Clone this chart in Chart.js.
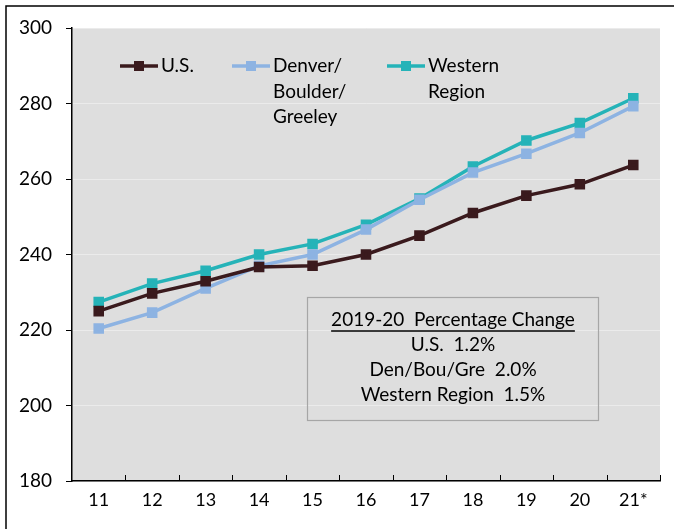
<!doctype html>
<html lang="en">
  <head>
    <meta charset="utf-8">
    <title>Index 2011-2021</title>
    <script src="https://cdn.jsdelivr.net/npm/chart.js"></script>
    <style>
      html, body { margin: 0; padding: 0; background: #fff; }
      .wrap { width: 674px; height: 529px; position: relative; }
    </style>
  </head>
  <body>
    <div class="wrap">
      <canvas id="trendChart" width="674" height="529"></canvas>
    </div>
    <script>
      // values
      const years = ['11', '12', '13', '14', '15', '16', '17', '18', '19', '20', '21*'];
      const usValues = [225.0, 229.7, 232.9, 236.7, 237.0, 240.0, 245.0, 251.0, 255.6, 258.6, 263.7];
      const denverValues = [220.4, 224.6, 231.0, 237.0, 240.0, 246.6, 254.5, 261.7, 266.7, 272.2, 279.3];
      const westernValues = [227.4, 232.3, 235.7, 240.0, 242.8, 247.9, 254.8, 263.3, 270.2, 274.8, 281.4];
      const seriesNames = [['U.S.'], ['Denver/', 'Boulder/', 'Greeley'], ['Western', 'Region']];
      const seriesColors = ['#3a1a1d', '#8db3e2', '#25b3b8'];
      const yTicks = [180, 200, 220, 240, 260, 280, 300];
      const noteLines = ['2019-20  Percentage Change', 'U.S.  1.2%', 'Den/Bou/Gre  2.0%', 'Western Region  1.5%'];

      const FONT = 'Lato, "Open Sans", sans-serif';

      function series(i, values) {
        return {
          label: seriesNames[i].join(' '),
          data: values,
          borderColor: seriesColors[i],
          backgroundColor: seriesColors[i],
          borderWidth: 3.5,
          pointStyle: 'rect',
          pointRadius: 5,
          pointHoverRadius: 5,
          tension: 0
        };
      }

      // gray plot area, page frame, inward x ticks, legend and note box
      const decor = {
        id: 'decor',
        beforeDraw(chart) {
          const { ctx, chartArea: a } = chart;
          ctx.save();
          ctx.fillStyle = '#dedede';
          ctx.fillRect(a.left, a.top, a.right - a.left, a.bottom - a.top);
          ctx.strokeStyle = '#000';
          ctx.lineWidth = 1.5;
          ctx.beginPath();
          ctx.moveTo(6, chart.height + 2);
          ctx.lineTo(6, 6);
          ctx.lineTo(chart.width + 2, 6);
          ctx.stroke();
          ctx.restore();
        },
        afterDatasetsDraw(chart) {
          const { ctx, chartArea: a, scales } = chart;
          const x = scales.x;
          ctx.save();
          // x tick marks on category borders, pointing up
          const step = x.getPixelForValue(1) - x.getPixelForValue(0);
          ctx.strokeStyle = '#000';
          ctx.lineWidth = 1;
          for (let i = 0; i < years.length; i++) {
            const px = Math.round(x.getPixelForValue(i) + step / 2) + 0.5;
            ctx.beginPath();
            ctx.moveTo(px, a.bottom);
            ctx.lineTo(px, a.bottom - 6);
            ctx.stroke();
          }

          // legend
          ctx.font = '19px ' + FONT;
          ctx.textBaseline = 'middle';
          ctx.textAlign = 'left';
          const legendX = [120, 232, 387];
          chart.data.datasets.forEach((ds, i) => {
            const lx = legendX[i];
            const ly = 66;
            ctx.strokeStyle = ds.borderColor;
            ctx.lineWidth = 3.5;
            ctx.beginPath();
            ctx.moveTo(lx, ly);
            ctx.lineTo(lx + 38, ly);
            ctx.stroke();
            ctx.fillStyle = ds.borderColor;
            ctx.fillRect(lx + 14, ly - 5, 10, 10);
            ctx.fillStyle = '#000';
            seriesNames[i].forEach((t, j) => ctx.fillText(t, lx + 41, ly + j * 25.5));
          });

          // note box
          const bx = 307.5, by = 297.5, bw = 291, bh = 123;
          ctx.strokeStyle = '#a6a6a6';
          ctx.lineWidth = 1.2;
          ctx.strokeRect(bx, by, bw, bh);
          ctx.fillStyle = '#000';
          ctx.textAlign = 'center';
          const cx = bx + bw / 2;
          noteLines.forEach((t, j) => ctx.fillText(t, cx, 320 + j * 25));
          const w = ctx.measureText(noteLines[0]).width;
          ctx.lineWidth = 1.3;
          ctx.strokeStyle = '#000';
          ctx.beginPath();
          ctx.moveTo(cx - w / 2, 331);
          ctx.lineTo(cx + w / 2, 331);
          ctx.stroke();
          ctx.restore();
        }
      };

      new Chart(document.getElementById('trendChart'), {
        type: 'line',
        data: {
          labels: years,
          datasets: [series(0, usValues), series(1, denverValues), series(2, westernValues)]
        },
        options: {
          responsive: false,
          animation: false,
          layout: { padding: { top: 28, right: 14, left: 0, bottom: 0 } },
          plugins: { legend: { display: false }, tooltip: { enabled: false } },
          scales: {
            x: {
              offset: true,
              grid: { display: false, drawTicks: false },
              border: { color: '#000', width: 1.5 },
              ticks: { color: '#000', padding: 8, font: { family: FONT, size: 18 } },
              afterFit(s) { s.height = 48; }
            },
            y: {
              min: 180,
              max: 300,
              afterBuildTicks(s) { s.ticks = yTicks.map(v => ({ value: v })); },
              grid: { color: '#ebebeb', lineWidth: 1, tickLength: 6, tickColor: '#000' },
              border: { color: '#000', width: 1.5 },
              ticks: { color: '#000', padding: 14, font: { family: FONT, size: 19 } },
              afterFit(s) { s.width = 72; }
            }
          }
        },
        plugins: [decor]
      });
    </script>
  </body>
</html>
